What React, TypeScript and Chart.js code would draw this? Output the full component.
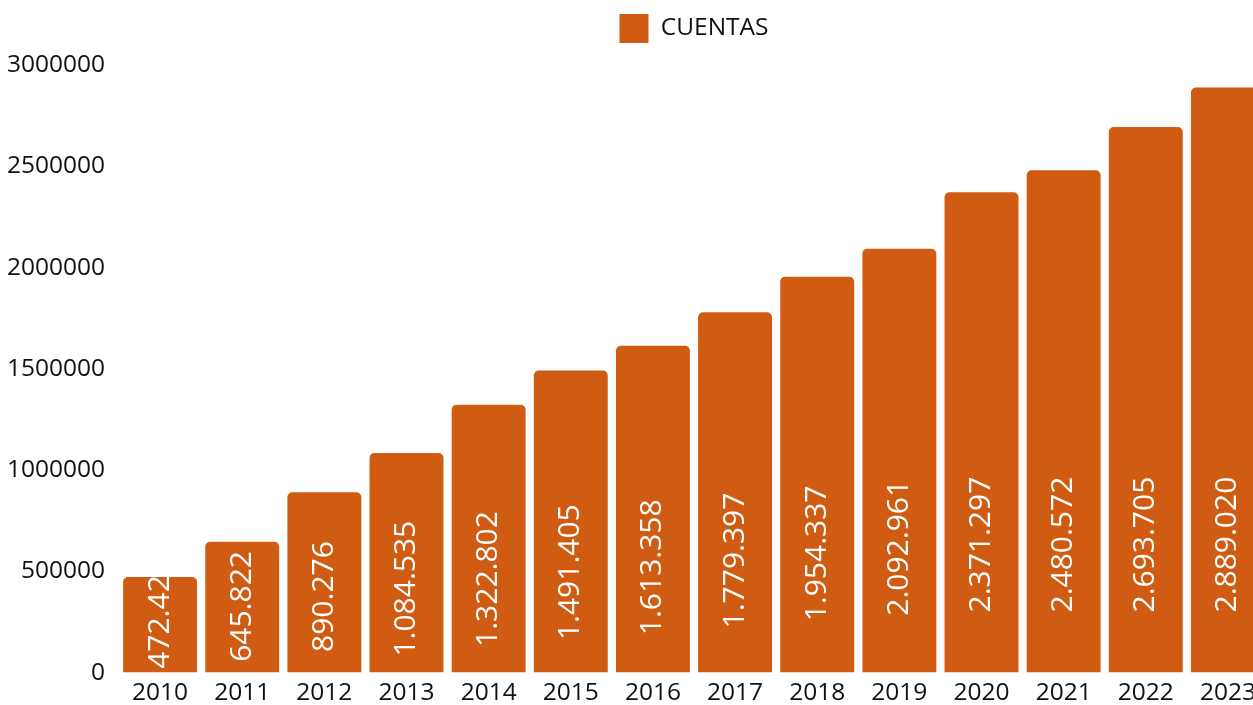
import React, { useEffect, useRef } from "react";
import { Chart, registerables } from "chart.js";

Chart.register(...registerables);

// ---- data ----
const years = ["2010", "2011", "2012", "2013", "2014", "2015", "2016", "2017", "2018", "2019", "2020", "2021", "2022", "2023"];
const cuentas = [472429, 645822, 890276, 1084535, 1322802, 1491405, 1613358, 1779397, 1954337, 2092961, 2371297, 2480572, 2693705, 2889020];
const seriesLabel = "CUENTAS";
const yMin = 0;
const yMax = 3000000;
const yStep = 500000;

// ---- style ----
const barColor = "#D05C13";
const textColor = "#111111";
const fontFamily = "'Open Sans', 'Noto Sans', sans-serif";

function formatThousands(v: number): string {
  return String(v).replace(/\B(?=(\d{3})+(?!\d))/g, ".");
}

const barValueLabels = {
  id: "barValueLabels",
  afterDatasetsDraw(chart: any) {
    const ctx = chart.ctx;
    const meta = chart.getDatasetMeta(0);
    const ds = chart.data.datasets[0].data as number[];
    meta.data.forEach((el: any, i: number) => {
      const { x, y, base, width } = el.getProps(["x", "y", "base", "width"], true);
      const h = base - y;
      const c = Math.min(128, 40 + 0.2 * h);
      ctx.save();
      ctx.beginPath();
      ctx.rect(x - width / 2, y, width, h);
      ctx.clip();
      ctx.translate(x, base - c);
      ctx.rotate(-Math.PI / 2);
      ctx.fillStyle = "#ffffff";
      ctx.font = `30px ${fontFamily}`;
      ctx.textAlign = "center";
      ctx.textBaseline = "middle";
      ctx.fillText(formatThousands(ds[i]), 0, 0);
      ctx.restore();
    });
  },
};

export default function App() {
  const canvasRef = useRef<HTMLCanvasElement | null>(null);

  useEffect(() => {
    if (!canvasRef.current) return;
    Chart.defaults.font.family = fontFamily;
    const chart = new Chart(canvasRef.current, {
      type: "bar",
      data: {
        labels: years,
        datasets: [
          {
            label: seriesLabel,
            data: cuentas,
            backgroundColor: barColor,
            borderWidth: 0,
            borderRadius: 5,
            barPercentage: 0.9,
            categoryPercentage: 1.0,
          },
        ],
      },
      options: {
        animation: false,
        responsive: false,
        maintainAspectRatio: false,
        layout: { padding: 0 },
        plugins: {
          legend: {
            display: true,
            position: "top",
            fullSize: false,
            labels: {
              boxWidth: 29,
              boxHeight: 29,
              padding: 6,
              color: textColor,
              font: { size: 24.5, family: fontFamily },
            },
          },
          title: {
            display: true,
            text: "",
            weight: 500,
            fullSize: false,
            padding: 0,
            font: { size: 12, lineHeight: 1 },
          },
          tooltip: { enabled: false },
        },
        scales: {
          x: {
            grid: { display: false, drawTicks: false },
            border: { display: false },
            ticks: {
              color: textColor,
              padding: 6,
              font: { size: 24.5, family: fontFamily },
              maxRotation: 0,
            },
          },
          y: {
            min: yMin,
            max: yMax,
            grid: { display: false, drawTicks: false },
            border: { display: false },
            afterFit: (scale: any) => {
              scale.width = 111;
            },
            ticks: {
              stepSize: yStep,
              color: textColor,
              padding: 14,
              font: { size: 24.5, family: fontFamily },
              callback: (v: any) => String(v),
            },
          },
        },
      },
      plugins: [barValueLabels],
    });
    return () => chart.destroy();
  }, []);

  return (
    <div
      style={{
        position: "fixed",
        left: 8,
        top: 8,
        width: 1245,
        height: 697,
        overflow: "hidden",
      }}
    >
      <canvas ref={canvasRef} width={1261} height={706} style={{ width: 1261, height: 706, display: "block" }} />
    </div>
  );
}
